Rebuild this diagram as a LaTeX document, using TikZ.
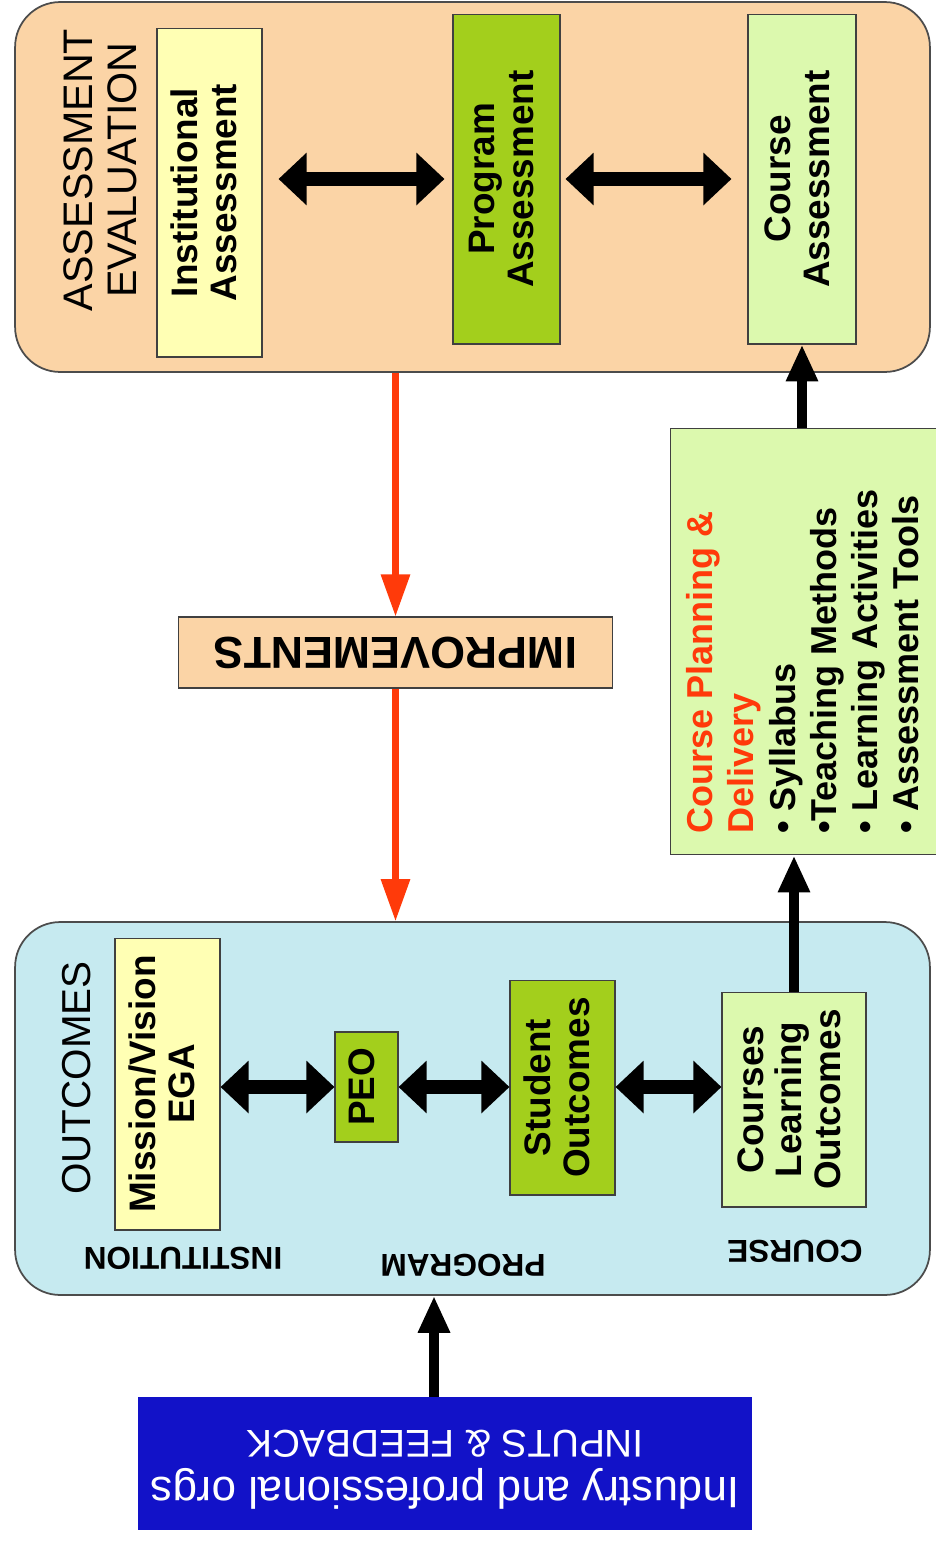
\documentclass[tikz,border=0pt]{standalone}
\usepackage{fontspec}
\setmainfont{Liberation Sans}
\usepackage{graphicx}
\usetikzlibrary{arrows.meta}

\definecolor{peach}{HTML}{FBD4A6}
\definecolor{paleblue}{HTML}{C6EAF0}
\definecolor{paleyellow}{HTML}{FFFFB4}
\definecolor{leafgreen}{HTML}{A3CF1C}
\definecolor{palegreen}{HTML}{DCF9AE}
\definecolor{inkblue}{HTML}{1212C8}
\definecolor{redorange}{HTML}{FF3A0A}

\newcommand{\vtext}[1]{\rotatebox{90}{\begin{tabular}{@{}c@{}}#1\end{tabular}}}
\newcommand{\utext}[1]{\rotatebox{180}{\begin{tabular}{@{}c@{}}#1\end{tabular}}}

\tikzset{
	panel/.style={draw=gray!60!black, line width=1pt, rounded corners=0.9cm, inner sep=0pt},
	box/.style={draw=gray!50!black, line width=0.6pt, inner sep=0pt, font=\fontsize{21}{22}\selectfont\bfseries},
	fatarrow/.style={line width=8pt, {Triangle[length=16pt,width=29pt]}-{Triangle[length=16pt,width=29pt]}},
	flow/.style={line width=5.5pt, -{Triangle[length=21pt,width=17pt]}},
	redflow/.style={redorange, line width=3.5pt, -{Triangle[length=24pt,width=16pt]}},
	levellabel/.style={font=\fontsize{18}{20}\selectfont\bfseries},
}

\begin{document}
\begin{tikzpicture}[x=0.02cm, y=-0.02cm]
	\useasboundingbox (0,0) rectangle (936,1542);
	
	%assessment panel
	\node (assess) at (472.5,187) [panel, fill=peach, minimum width=18.3cm, minimum height=7.4cm]{};
	\node (atitle) at (106,170) [font=\fontsize{23.5}{25}\selectfont]{\vtext{ASSESSMENT\\EVALUATION}};
	\node (inst) at (209.5,192.5) [box, fill=paleyellow, minimum width=2.1cm, minimum height=6.58cm]{\vtext{Institutional\\Assessment}};
	\node (prog) at (506.5,179) [box, fill=leafgreen, minimum width=2.14cm, minimum height=6.6cm]{\vtext{Program\\Assessment}};
	\node (cass) at (802,179) [box, fill=palegreen, minimum width=2.16cm, minimum height=6.6cm]{\vtext{Course\\Assessment}};
	
	\draw[fatarrow, shorten <=0.32cm, shorten >=0.16cm] (inst.east |- prog.west) -- (prog.west);
	\draw[fatarrow, shorten <=0.1cm, shorten >=0.32cm] (prog.east) -- (cass.west);
	
	%improvements and delivery
	\node (impr) at (395.5,652.5) [box, fill=peach, minimum width=8.7cm, minimum height=1.42cm, font=\fontsize{25.5}{27}\selectfont\bfseries]{\rotatebox{180}{IMPROVEMENTS}};
	\node (plan) at (807.5,641.5) [box, fill=palegreen, minimum width=5.5cm, minimum height=8.54cm, font=\fontsize{20.5}{23.5}\selectfont\bfseries]{\rotatebox{90}{\begin{tabular}{@{}l@{}}
		\textcolor{redorange}{Course Planning \&}\\
		\textcolor{redorange}{Delivery}\\
		• Syllabus\\
		•Teaching Methods\\
		• Learning Activities\\
		• Assessment Tools
	\end{tabular}\hspace*{0.8cm}}};
	
	%outcomes panel
	\node (outc) at (472.5,1108.5) [panel, fill=paleblue, minimum width=18.3cm, minimum height=7.46cm]{};
	\node (otitle) at (82,1078) [font=\fontsize{23}{24}\selectfont]{\vtext{OUTCOMES}};
	\node (miss) at (167.5,1084) [box, fill=paleyellow, minimum width=2.1cm, minimum height=5.84cm]{\vtext{Mission/Vision\\EGA}};
	\node (peo) at (366.5,1087) [box, fill=leafgreen, minimum width=1.26cm, minimum height=2.2cm]{\vtext{PEO}};
	\node (stud) at (562.5,1087.5) [box, fill=leafgreen, minimum width=2.1cm, minimum height=4.3cm]{\vtext{Student\\Outcomes}};
	\node (clo) at (794,1099.5) [box, fill=palegreen, minimum width=2.88cm, minimum height=4.3cm]{\vtext{Courses\\Learning\\Outcomes}};
	
	\node (linst) at (183,1255) [levellabel]{\utext{INSTITUTION}};
	\node (lprog) at (463,1262) [levellabel]{\utext{PROGRAM}};
	\node (lcourse) at (795,1248) [levellabel]{\utext{COURSE}};
	
	\draw[fatarrow] (miss.east |- peo.west) -- (peo.west);
	\draw[fatarrow] (peo.east) -- (stud.west |- peo.east);
	\draw[fatarrow] (stud.east |- peo.east) -- (clo.west |- peo.east);
	
	%inputs
	\node (inp) at (445,1463.5) [fill=inkblue, inner sep=0pt, minimum width=12.28cm, minimum height=2.66cm, text=white, font=\fontsize{25}{27}\selectfont]{\rotatebox{180}{\begin{tabular}{@{}c@{}}
		Industry and professional orgs\\
		\fontsize{22}{27}\selectfont INPUTS \& FEEDBACK
	\end{tabular}}};
	
	%flows
	\draw[redflow] (impr.north |- assess.south) -- (impr.north);
	\draw[redflow] (impr.south) -- (impr.south |- outc.north);
	\draw[flow] (clo.north) -- (clo.north |- plan.south);
	\draw[flow] (cass.south |- plan.north) -- (cass.south);
	\draw[flow] ([xshift=-0.22cm]inp.north) -- ([xshift=-0.22cm]inp.north |- outc.south);
\end{tikzpicture}
\end{document}
